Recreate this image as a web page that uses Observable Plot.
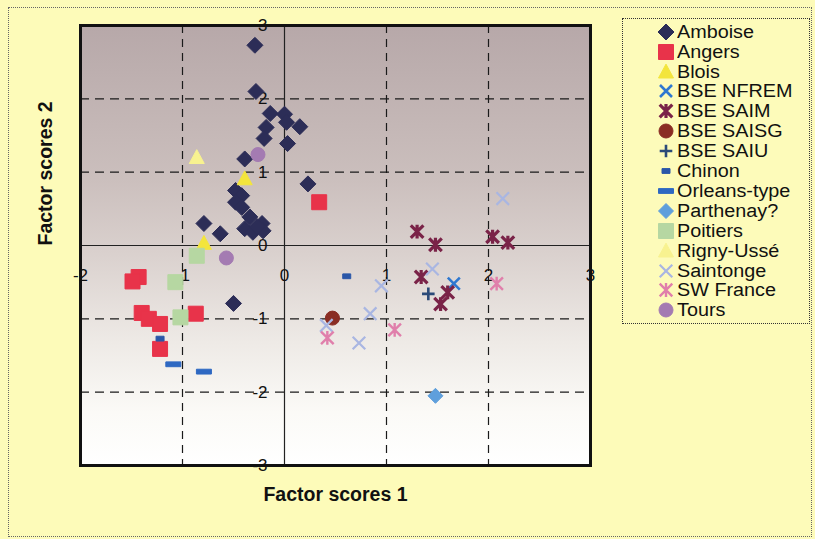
<!DOCTYPE html>
<html><head><meta charset="utf-8">
<script src="https://cdn.jsdelivr.net/npm/d3@7"></script>
<script src="https://cdn.jsdelivr.net/npm/@observablehq/plot@0.6"></script>
<style>
html,body{margin:0;padding:0;background:#fcfad0;}
#wrap{position:relative;width:815px;height:539px;background:#fdfbb9;overflow:hidden;}
#wrap svg.plot{position:absolute;left:0;top:0;}
#border{position:absolute;left:8px;top:7px;width:804px;height:530px;border:1px dotted #666;box-sizing:border-box;pointer-events:none;}
#legend{position:absolute;left:622px;top:18px;width:188px;height:306px;border:1.5px dotted #333;box-sizing:border-box;font-family:"Liberation Sans",Arial,Helvetica,sans-serif;font-size:18px;color:#111;background:#fdfbba;}
.item{position:absolute;left:0;height:20px;width:186px;}
.item svg{position:absolute;left:34px;top:1px;}
.item span{position:absolute;left:54px;top:0;line-height:20px;white-space:nowrap;transform:scaleX(1.1);transform-origin:0 50%;}
</style></head>
<body>
<div id="wrap"><div id="border"></div></div>
<script>
// ---- data (factor scores 1, factor scores 2) ----
const amboise = [[-0.29,2.73],[-0.28,2.10],[-0.14,1.80],[0.00,1.79],[0.02,1.68],[0.15,1.62],[-0.18,1.61],[-0.20,1.46],[0.03,1.39],[-0.39,1.18],[0.23,0.84],[-0.48,0.75],[-0.42,0.68],[-0.48,0.59],[-0.42,0.52],[-0.79,0.30],[-0.63,0.16],[-0.34,0.39],[-0.39,0.23],[-0.22,0.30],[-0.31,0.18],[-0.21,0.20],[-0.27,0.26],[-0.50,-0.79]];
const angers = [[0.34,0.59],[-1.43,-0.43],[-1.49,-0.49],[-1.40,-0.92],[-1.33,-1.00],[-1.22,-1.07],[-1.22,-1.41],[-0.87,-0.93]];
const blois = [[-0.39,0.91],[-0.79,0.03]];
const bseNfrem = [[1.66,-0.52]];
const bseSaim = [[1.30,0.19],[1.48,0.01],[2.04,0.12],[2.19,0.04],[1.34,-0.43],[1.60,-0.64],[1.53,-0.80]];
const bseSaisg = [[0.47,-0.99]];
const bseSaiu = [[1.41,-0.66]];
const chinon = [[-1.22,-1.27],[0.61,-0.42]];
const orleans = [[-1.09,-1.62],[-0.79,-1.72]];
const parthenay = [[1.48,-2.05]];
const poitiers = [[-0.86,-0.14],[-1.07,-0.50],[-1.02,-0.98]];
const rigny = [[-0.86,1.20]];
const saintonge = [[0.95,-0.55],[0.84,-0.93],[0.73,-1.33],[0.41,-1.09],[1.45,-0.32],[2.14,0.64]];
const swFrance = [[0.42,-1.26],[1.08,-1.15],[2.08,-0.52]];
const tours = [[-0.26,1.24],[-0.57,-0.17]];

const seriesNames = ["Amboise","Angers","Blois","BSE NFREM","BSE SAIM","BSE SAISG","BSE SAIU","Chinon","Orleans-type","Parthenay?","Poitiers","Rigny-Ussé","Saintonge","SW France","Tours"];
const seriesData = [amboise,angers,blois,bseNfrem,bseSaim,bseSaisg,bseSaiu,chinon,orleans,parthenay,poitiers,rigny,saintonge,swFrance,tours];
const seriesColors = ["#2c2d57","#e8334a","#f3e53c","#2f78d0","#7a2348","#8a2d24","#2b4a78","#2a57a8","#2e68c2","#5f9fdc","#b6d7a2","#f8f290","#a9b6e2","#e07fab","#a47bb2"];

const xTicks = [-2,-1,0,1,2,3];
const yTicks = [3,2,1,0,-1,-2,-3];
const xGrid = [-1,1,2];
const yGrid = [-2,-1,1,2];

// ---- marker shapes ----
function sym(fn){ return {draw(c,size){ const h=Math.sqrt(size/Math.PI); fn(c,h); }}; }
const SYM = {
  diamond: sym((c,h)=>{c.moveTo(0,-h);c.lineTo(h,0);c.lineTo(0,h);c.lineTo(-h,0);c.closePath();}),
  square: sym((c,h)=>{c.rect(-h,-h,2*h,2*h);}),
  triangle: sym((c,h)=>{c.moveTo(0,-h*1.05);c.lineTo(h,h*0.8);c.lineTo(-h,h*0.8);c.closePath();}),
  times: sym((c,h)=>{c.moveTo(-h,-h);c.lineTo(h,h);c.moveTo(h,-h);c.lineTo(-h,h);}),
  star: sym((c,h)=>{c.moveTo(-h,-h);c.lineTo(h,h);c.moveTo(h,-h);c.lineTo(-h,h);c.moveTo(0,-h*1.1);c.lineTo(0,h*1.1);}),
  plus: sym((c,h)=>{c.moveTo(-h,0);c.lineTo(h,0);c.moveTo(0,-h);c.lineTo(0,h);}),
  dash: sym((c,h)=>{c.rect(-h,-2.4,2*h,4.8);}),
  circle: sym((c,h)=>{c.moveTo(h,0);c.arc(0,0,h,0,2*Math.PI);})
};
const styles = [
  {s:"diamond", r:8, filled:true},
  {s:"square", r:7.5, filled:true},
  {s:"triangle", r:7.5, filled:true},
  {s:"times", r:6, filled:false, sw:2.6},
  {s:"star", r:6.3, filled:false, sw:3.2},
  {s:"circle", r:7, filled:true},
  {s:"plus", r:6.3, filled:false, sw:2.6},
  {s:"dash", r:4, filled:true},
  {s:"dash", r:7.5, filled:true},
  {s:"diamond", r:7.5, filled:true},
  {s:"square", r:7.5, filled:true},
  {s:"triangle", r:7.5, filled:true},
  {s:"times", r:6.3, filled:false, sw:2.2},
  {s:"star", r:6.3, filled:false, sw:2.4},
  {s:"circle", r:7, filled:true}
];

const pointMarks = seriesData.map((d,i)=>{
  const st = styles[i], col = seriesColors[i];
  return Plot.dot(d, {x: p=>p[0], y: p=>p[1], symbol: SYM[st.s], r: st.r,
    fill: st.filled ? col : "none", stroke: col, strokeWidth: st.filled ? 1 : st.sw});
});

const font = "Liberation Sans, Arial, Helvetica, sans-serif";
const svg = Plot.plot({
  width: 815, height: 539,
  marginLeft: 80, marginRight: 225, marginTop: 25, marginBottom: 74,
  style: {background: "transparent", fontFamily: font, overflow: "visible"},
  x: {domain: [-2,3], axis: null},
  y: {domain: [-3,3], axis: null},
  marks: [
    Plot.frame({fill: "url(#bggrad)", stroke: "none"}),
    Plot.ruleX(xGrid, {stroke: "#1a1a1a", strokeWidth: 1.2, strokeDasharray: "8,6"}),
    Plot.ruleY(yGrid, {stroke: "#1a1a1a", strokeWidth: 1.2, strokeDasharray: "9,6"}),
    Plot.ruleX([0], {stroke: "#222", strokeWidth: 1.2}),
    Plot.ruleY([0], {stroke: "#222", strokeWidth: 1.2}),
    Plot.text(xTicks, {x: d=>d, y: 0, dy: 30, text: d=>String(d), fontSize: 17, fill: "#111"}),
    Plot.text(yTicks, {x: 0, y: d=>d, dx: -17, text: d=>String(d), textAnchor: "end", fontSize: 17, fill: "#111"}),
    ...pointMarks,
    Plot.frame({fill: "none", stroke: "#111", strokeWidth: 3}),
    Plot.text(["Factor scores 1"], {frameAnchor: "bottom", dy: 35, fontSize: 19.5, fontWeight: "bold", fill: "#111"}),
    Plot.text(["Factor scores 2"], {frameAnchor: "left", dx: -35, rotate: -90, fontSize: 19.5, fontWeight: "bold", fill: "#111"})
  ]
});
svg.classList.add("plot");
const defs = d3.select(svg).insert("defs", ":first-child");
const lg = defs.append("linearGradient").attr("id","bggrad").attr("x1",0).attr("y1",0).attr("x2",0).attr("y2",1);
[["0%","#b7a8a9"],["35%","#cbbfbd"],["52%","#dad1ce"],["72%","#eeeae6"],["88%","#fbfaf7"],["100%","#ffffff"]]
  .forEach(([o,c])=>lg.append("stop").attr("offset",o).attr("stop-color",c));

const wrap = document.getElementById("wrap");
wrap.insertBefore(svg, wrap.firstChild);

// ---- legend ----
const legend = document.createElement("div");
legend.id = "legend";
seriesNames.forEach((name,i)=>{
  const st = styles[i], col = seriesColors[i];
  const item = document.createElement("div");
  item.className = "item";
  item.style.top = (2.7 + i*19.9) + "px";
  const path = d3.symbol(SYM[st.s], st.r*st.r*Math.PI)();
  const fill = st.filled ? col : "none";
  const sw = st.filled ? 1 : st.sw;
  item.innerHTML = `<svg width="18" height="18" viewBox="-9 -9 18 18"><path d="${path}" fill="${fill}" stroke="${col}" stroke-width="${sw}"/></svg><span>${name}</span>`;
  legend.appendChild(item);
});
wrap.appendChild(legend);
</script>
</body></html>
